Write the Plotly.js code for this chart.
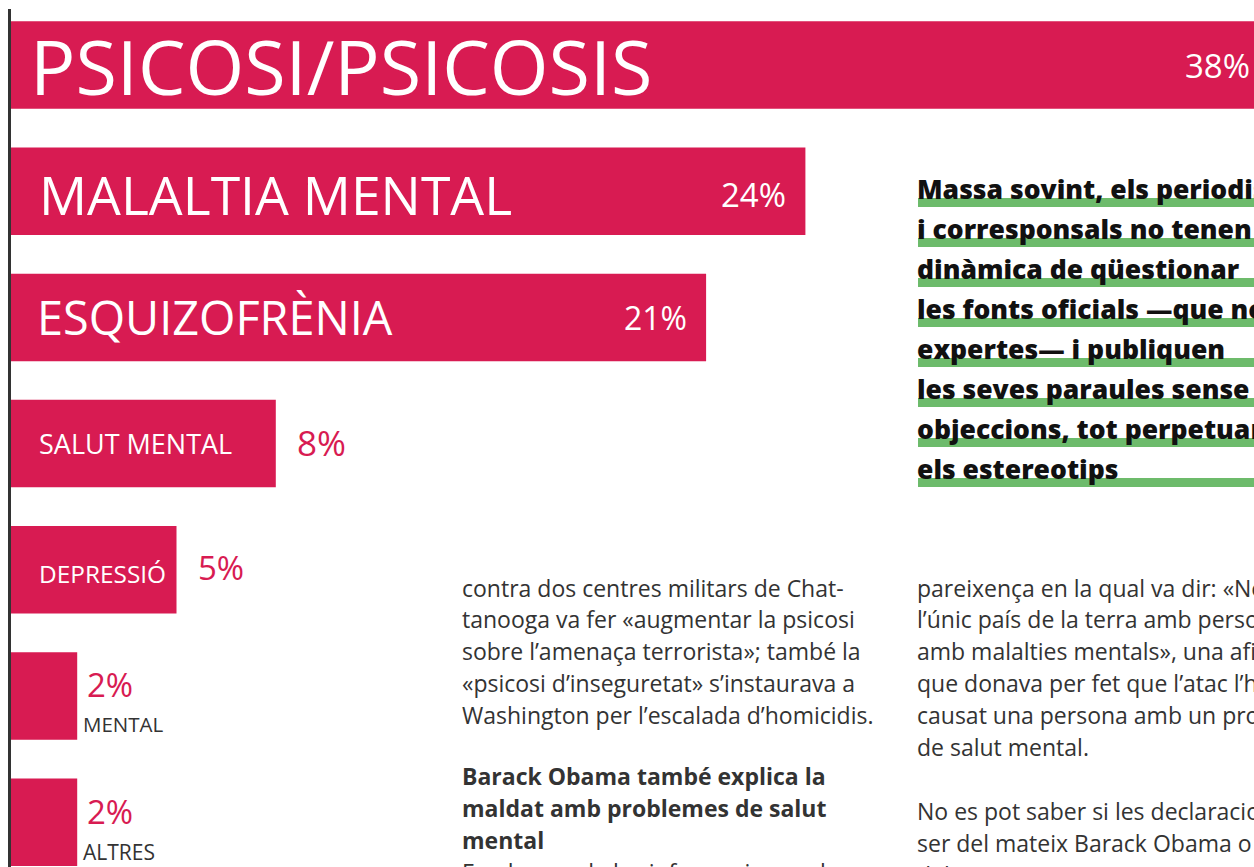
<!DOCTYPE html>
<html><head><meta charset="utf-8">
<script src="https://cdn.plot.ly/plotly-3.0.1.min.js"></script>
<style>html,body{margin:0;padding:0;background:#fff;}#chart{width:1254px;height:867px;}</style>
</head><body><div id="chart"></div>
<script>
// ---- data ----
const categories = ['PSICOSI/PSICOSIS','MALALTIA MENTAL','ESQUIZOFRÈNIA','SALUT MENTAL','DEPRESSIÓ','MENTAL','ALTRES'];
const values = [38, 24, 21, 8, 5, 2, 2];
const quoteLines = [
  'Massa sovint, els periodistes',
  'i corresponsals no tenen la',
  'dinàmica de qüestionar',
  'les fonts oficials —que no són',
  'expertes— i publiquen',
  'les seves paraules sense',
  'objeccions, tot perpetuant',
  'els estereotips'
];
const col1Lines = [
  'contra dos centres militars de Chat-',
  'tanooga va fer «augmentar la psicosi',
  'sobre l’amenaça terrorista»; també la',
  '«psicosi d’inseguretat» s’instaurava a',
  'Washington per l’escalada d’homicidis.'
];
const col1Heading = ['Barack Obama també explica la','maldat amb problemes de salut','mental'];
const col1Next = ['En el marc de les informacions sobre'];
const col2Lines = [
  'pareixença en la qual va dir: «No som',
  'l’únic país de la terra amb persones',
  'amb malalties mentals», una afirmació',
  'que donava per fet que l’atac l’havia',
  'causat una persona amb un problema',
  'de salut mental.'
];
const col2Lines2 = ['No es pot saber si les declaracions van','ser del mateix Barack Obama o','dels seus assessors'];

// ---- layout helpers ----
const W = 1254, H = 867;
const px = x => x / W;
const py = y => 1 - y / H;
const PINK = '#d81b52';
const GREEN = '#6dbb6b';
const DISPLAY = 'Open Sans, sans-serif';
const OPEN = 'Open Sans, sans-serif';

const idx = categories.map((c, i) => i);
const pxPerUnit = 33.1, x0px = 11;
const xRange = [-x0px / pxPerUnit, (W - x0px) / pxPerUnit];
const yPitch = 126.2, yFirst = 65;
const yRange = [(H - yFirst) / yPitch, -yFirst / yPitch];
const barEndPaper = v => (x0px + v * pxPerUnit) / W;
const rowPaper = i => 1 - (yFirst + i * yPitch) / H;

const annotations = [];
const shapes = [];

// vertical rule
shapes.push({type:'line', xref:'paper', yref:'paper', x0:px(9.5), x1:px(9.5), y0:py(9), y1:py(H+5),
  line:{color:'#333333', width:3}, layer:'below'});

// label styles
const catSize = [75.5, 53.5, 46.8, 27, 24.4, 20.5, 21];
const catShiftX = [28, 37, 35, 37, 37, 0, 0];
const catShiftY = [0, -3, 0, 0, -4, -28, -30];
const pctSize = [33, 33, 32, 35, 33, 33, 33];
const pctShiftY = [0, -3, 0, 1, 2, 12, 11];
idx.forEach(i => {
  const v = values[i];
  const big = i <= 4;
  if (big) {
    annotations.push({xref:'paper', yref:'paper', x:0, y:rowPaper(i), xshift:catShiftX[i], yshift:catShiftY[i],
      xanchor:'left', yanchor:'middle', showarrow:false, text:categories[i],
      font:{family:DISPLAY, size:catSize[i], color:'#ffffff'}});
  } else {
    annotations.push({xref:'paper', yref:'paper', x:barEndPaper(v), y:rowPaper(i), xshift:4, yshift:catShiftY[i],
      xanchor:'left', yanchor:'middle', showarrow:false, text:categories[i],
      font:{family:DISPLAY, size:catSize[i], color:'#333333'}});
  }
  let pct = {xref:'paper', yref:'paper', x:barEndPaper(v), y:rowPaper(i), yanchor:'middle', yshift:pctShiftY[i],
    showarrow:false, text: v + '%',
    font:{family:DISPLAY, size:pctSize[i], color: i<=2 ? '#ffffff' : PINK}};
  if (i <= 2) { pct.xanchor='right'; pct.xshift=-17; }
  else if (i <= 4) { pct.xanchor='left'; pct.xshift=19; }
  else { pct.xanchor='left'; pct.xshift=8; }
  annotations.push(pct);
});

// quote block
const QS = 26.5;
quoteLines.forEach((t, i) => {
  const base = 197 + 40 * i;
  shapes.push({type:'rect', xref:'paper', yref:'paper', x0:px(918), x1:px(W+20), y0:py(base+1), y1:py(base+10),
    fillcolor:GREEN, line:{width:0}, layer:'below'});
  annotations.push({xref:'paper', yref:'paper', x:px(915), y:py(base - 0.32*QS), xanchor:'left', yanchor:'middle',
    showarrow:false, text:t, font:{family:OPEN, size:QS, color:'#111111', weight:800}});
});

// body text
const BS = 23;
function bodyLine(t, x, base, bold) {
  annotations.push({xref:'paper', yref:'paper', x:px(x), y:py(base - 0.32*BS), xanchor:'left', yanchor:'middle',
    showarrow:false, text: bold ? '<b>'+t+'</b>' : t, font:{family:OPEN, size:BS, color:'#333333'}});
}
col1Lines.forEach((t,i) => bodyLine(t, 460, 595 + 31.8*i, false));
col1Heading.forEach((t,i) => bodyLine(t, 460, 783 + 32*i, true));
col1Next.forEach((t,i) => bodyLine(t, 460, 879 + 32*i, false));
col2Lines.forEach((t,i) => bodyLine(t, 915, 595 + 31.8*i, false));
col2Lines2.forEach((t,i) => bodyLine(t, 915, 818 + 32*i, false));

const trace = {
  type:'bar', orientation:'h', x: values, y: idx,
  width: 87.5 / yPitch,
  marker:{color:PINK, line:{width:0}},
  hoverinfo:'skip', cliponaxis:true
};

const layout = {
  width:W, height:H, margin:{l:0,r:0,t:0,b:0,pad:0},
  paper_bgcolor:'#ffffff', plot_bgcolor:'rgba(0,0,0,0)',
  showlegend:false,
  xaxis:{range:xRange, visible:false, fixedrange:true},
  yaxis:{range:yRange, visible:false, fixedrange:true},
  annotations, shapes
};
Plotly.newPlot('chart', [trace], layout, {displayModeBar:false, staticPlot:true});
</script></body></html>
